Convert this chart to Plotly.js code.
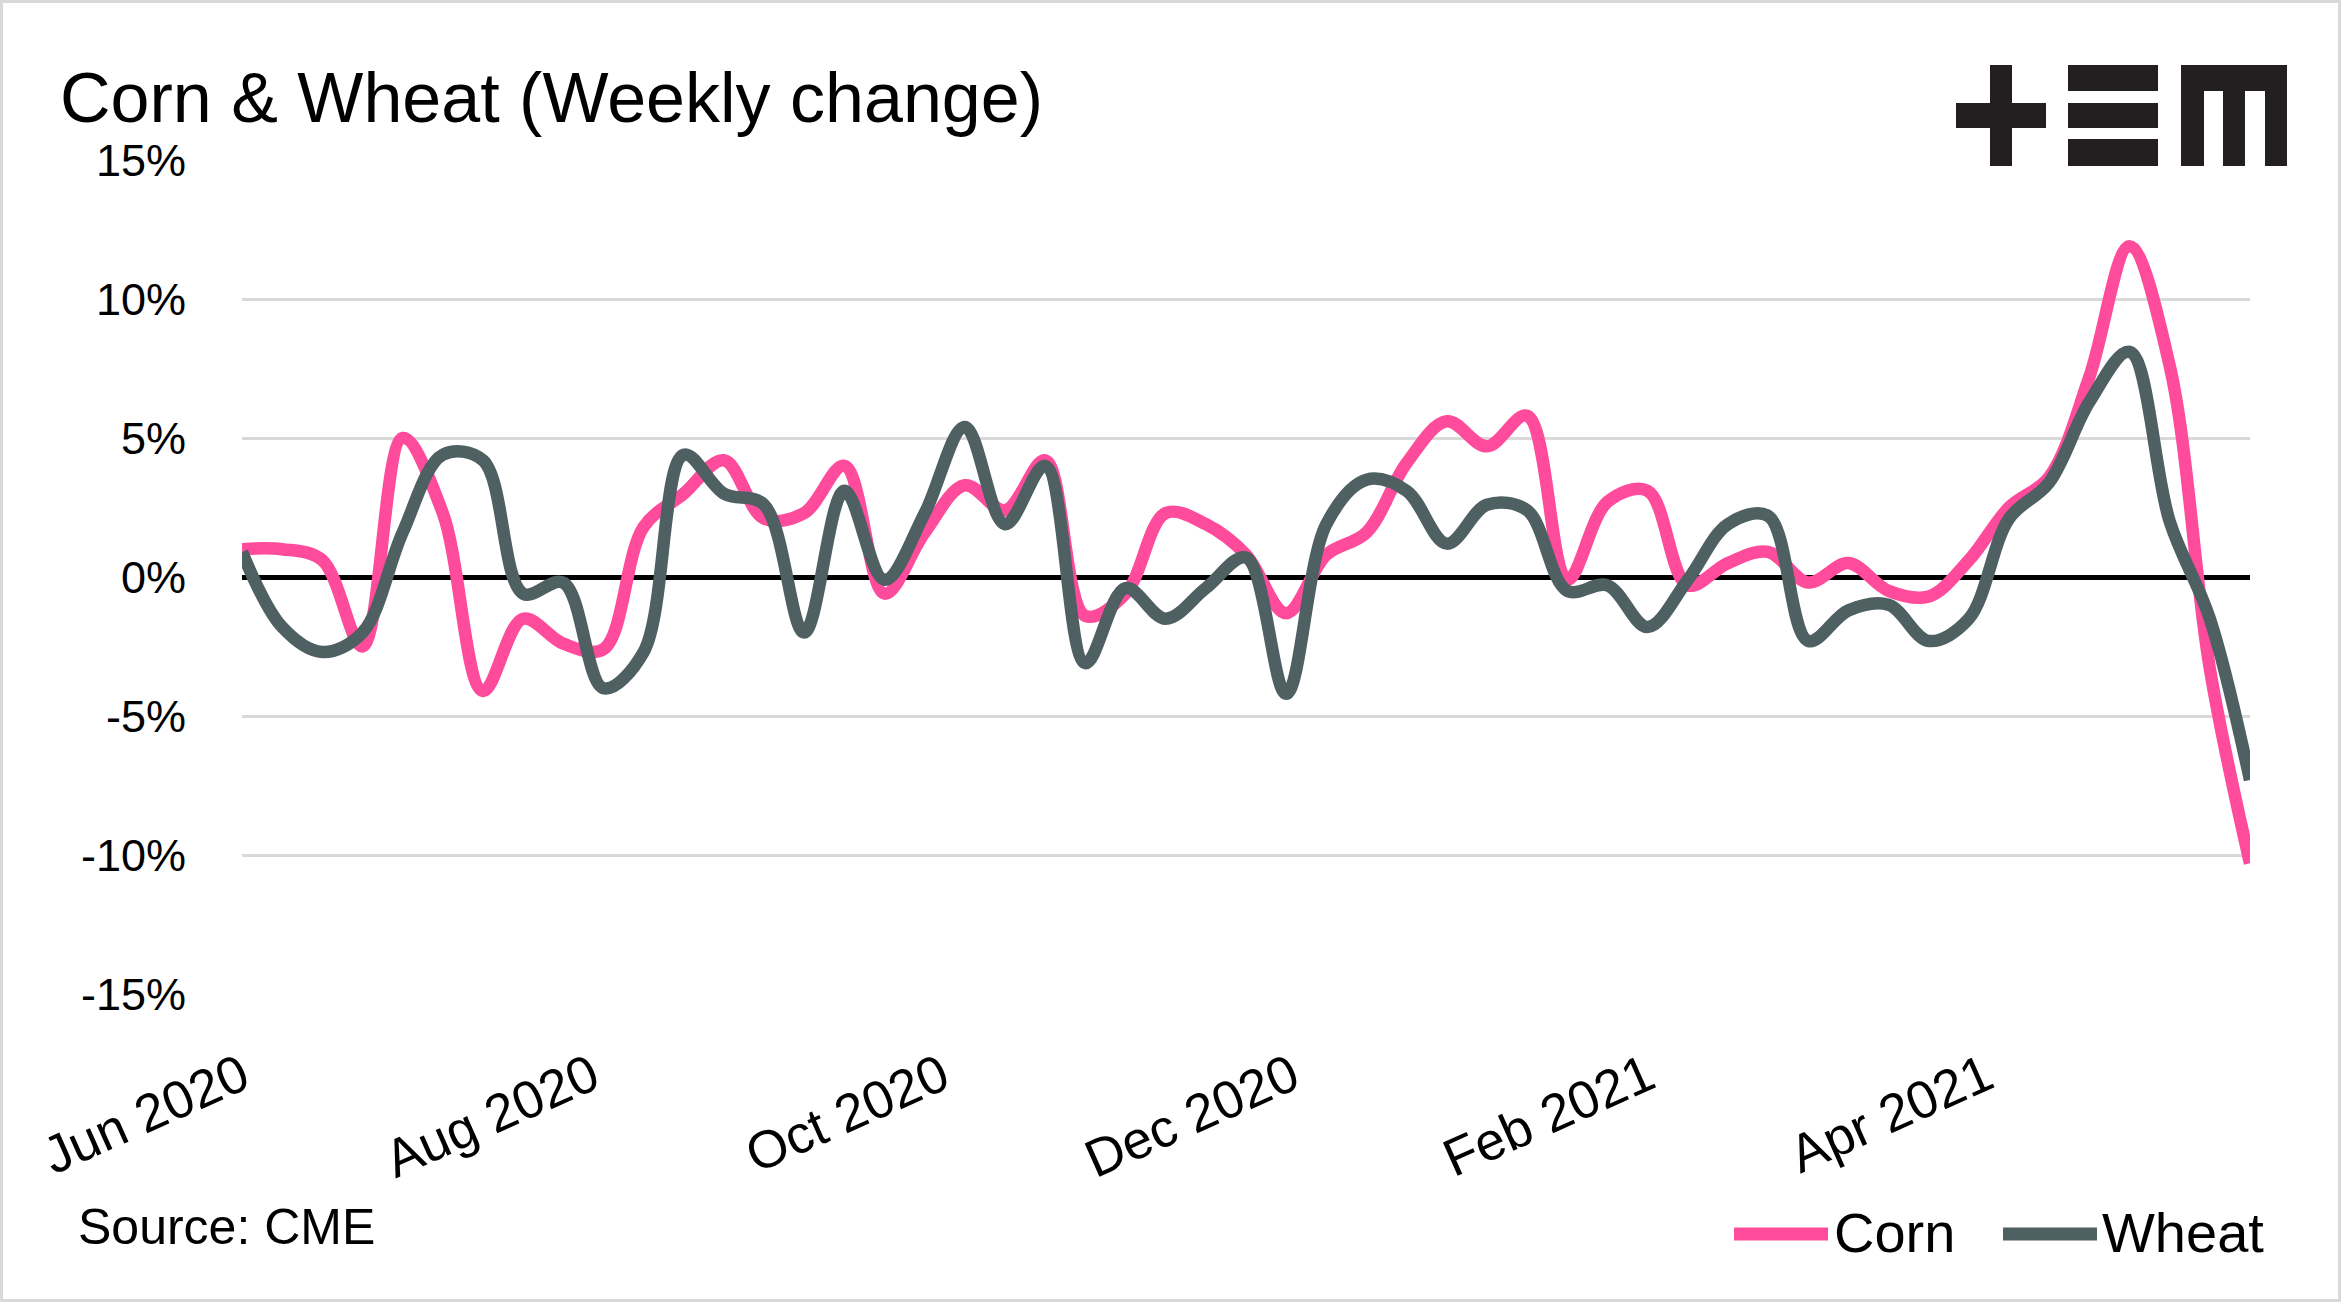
<!DOCTYPE html>
<html>
<head>
<meta charset="utf-8">
<script src="https://cdn.plot.ly/plotly-3.0.1.min.js"></script>
<style>
  html, body { margin: 0; padding: 0; background: #ffffff; }
  #wrap { position: relative; width: 2341px; height: 1302px; }
  #chart { position: absolute; left: 0; top: 0; width: 2341px; height: 1302px; }
  #frame { position: absolute; left: 0; top: 0; width: 2341px; height: 1302px; box-sizing: border-box; border: 3px solid #d9d9d9; pointer-events: none; }
</style>
</head>
<body>
<div id="wrap"><div id="chart"></div><div id="frame"></div></div>
<script>
// ---- Data ----
const weeks = [
  '2020-06-01','2020-06-08','2020-06-15','2020-06-22','2020-06-29',
  '2020-07-06','2020-07-13','2020-07-20','2020-07-27',
  '2020-08-03','2020-08-10','2020-08-17','2020-08-24','2020-08-31',
  '2020-09-07','2020-09-14','2020-09-21','2020-09-28',
  '2020-10-05','2020-10-12','2020-10-19','2020-10-26',
  '2020-11-02','2020-11-09','2020-11-16','2020-11-23','2020-11-30',
  '2020-12-07','2020-12-14','2020-12-21','2020-12-28',
  '2021-01-04','2021-01-11','2021-01-18','2021-01-25',
  '2021-02-01','2021-02-08','2021-02-15','2021-02-22',
  '2021-03-01','2021-03-08','2021-03-15','2021-03-22','2021-03-29',
  '2021-04-05','2021-04-12','2021-04-19','2021-04-26',
  '2021-05-03','2021-05-10','2021-05-17'
];
const cornName = 'Corn';
const wheatName = 'Wheat';
const corn = [
  1.0, 1.0, 0.6, -2.5, 5.0, 2.3, -4.1, -1.5, -2.4, -2.6,
  1.8, 3.0, 4.2, 2.1, 2.3, 4.0, -0.6, 1.6, 3.3, 2.4,
  4.2, -1.4, -0.6, 2.3, 1.9, 0.8, -1.3, 0.8, 1.6, 4.1,
  5.6, 4.7, 5.8, -0.1, 2.7, 3.1, -0.3, 0.5, 0.9, -0.2,
  0.5, -0.5, -0.7, 0.6, 2.5, 3.6, 7.2, 11.9, 7.6, -3.3,
  -10.3
];
const wheat = [
  0.9, -1.8, -2.7, -2.0, 1.6, 4.4, 4.2, -0.6, -0.2, -4.0,
  -2.7, 4.4, 3.0, 2.6, -2.0, 3.1, -0.1, 2.3, 5.4, 1.9,
  4.0, -3.1, -0.4, -1.5, -0.4, 0.7, -4.2, 1.9, 3.5, 3.1,
  1.2, 2.6, 2.4, -0.5, -0.3, -1.8, -0.1, 1.9, 2.2, -2.3,
  -1.2, -1.0, -2.3, -1.5, 2.1, 3.4, 6.3, 8.1, 2.0, -1.5,
  -7.3
];
const xTickVals = ['2020-06-01','2020-08-01','2020-10-01','2020-12-01','2021-02-01','2021-04-01'];
const xTickText = ['Jun 2020','Aug 2020','Oct 2020','Dec 2020','Feb 2021','Apr 2021'];
const yTickVals = [-15, -10, -5, 0, 5, 10, 15];
const yTickText = ['-15%','-10%','-5%','0%','5%','10%','15%'];
const titleText = 'Corn &amp; Wheat (Weekly change)';
const sourceText = 'Source: CME';

// ---- Styling ----
const CORN_COLOR = '#ff4b9b';
const WHEAT_COLOR = '#4e6062';
const FONT = 'Liberation Sans, Arial, sans-serif';
const W = 2341, H = 1302;
const M = {l: 242, r: 91, t: 160, b: 308};
const PW = W - M.l - M.r, PH = H - M.t - M.b;
const px = x => (x - M.l) / PW;
const py = y => (H - M.b - y) / PH;

const traces = [
  {x: weeks, y: corn, name: cornName, type: 'scatter', mode: 'lines',
   line: {color: CORN_COLOR, width: 12.5, shape: 'spline', smoothing: 1}},
  {x: weeks, y: wheat, name: wheatName, type: 'scatter', mode: 'lines',
   line: {color: WHEAT_COLOR, width: 12.5, shape: 'spline', smoothing: 1}}
];

const LOGO = '#231f20';
function rect(x0, y0, x1, y1, color, layer) {
  return {type: 'rect', xref: 'paper', yref: 'paper', x0: px(x0), x1: px(x1), y0: py(y1), y1: py(y0),
          fillcolor: color, line: {width: 0}, layer: layer || 'above'};
}
const shapes = [
  rect(1948, 154, 2300, 167, '#ffffff'),
  rect(1990, 65, 2012, 166, LOGO),
  rect(1956, 103, 2046, 128, LOGO),
  rect(2068, 65, 2158, 91, LOGO),
  rect(2068, 103, 2158, 128, LOGO),
  rect(2068, 139, 2158, 166, LOGO),
  rect(2181, 65, 2287, 91, LOGO),
  rect(2181, 65, 2204, 166, LOGO),
  rect(2223, 65, 2245, 166, LOGO),
  rect(2265, 65, 2287, 166, LOGO),
  {type: 'line', xref: 'paper', yref: 'paper', x0: px(1734), x1: px(1828), y0: py(1234), y1: py(1234),
   line: {color: CORN_COLOR, width: 13}},
  {type: 'line', xref: 'paper', yref: 'paper', x0: px(2003), x1: px(2097), y0: py(1234), y1: py(1234),
   line: {color: WHEAT_COLOR, width: 13}}
];

const annotations = [
  {text: sourceText, xref: 'paper', yref: 'paper', x: px(76), y: py(1227), xanchor: 'left', yanchor: 'middle',
   showarrow: false, font: {family: FONT, size: 50, color: '#000000'}},
  {text: cornName, xref: 'paper', yref: 'paper', x: px(1832), y: py(1232), xanchor: 'left', yanchor: 'middle',
   showarrow: false, font: {family: FONT, size: 56, color: '#000000'}},
  {text: wheatName, xref: 'paper', yref: 'paper', x: px(2100), y: py(1232), xanchor: 'left', yanchor: 'middle',
   showarrow: false, font: {family: FONT, size: 56, color: '#000000'}}
];

const layout = {
  width: W, height: H,
  margin: M,
  paper_bgcolor: '#ffffff', plot_bgcolor: '#ffffff',
  showlegend: false,
  font: {family: FONT, color: '#000000'},
  title: {text: titleText, x: 60 / W, xanchor: 'left', xref: 'container',
          y: 1 - 97 / H, yanchor: 'middle', yref: 'container',
          font: {family: FONT, size: 70, color: '#000000'}},
  xaxis: {
    type: 'date', range: [weeks[0], weeks[weeks.length - 1]],
    tickmode: 'array', tickvals: xTickVals, ticktext: xTickText,
    tickangle: -24, tickfont: {family: FONT, size: 53, color: '#000000'},
    ticks: 'outside', ticklen: 30, tickcolor: 'rgba(0,0,0,0)',
    showgrid: false, zeroline: false, showline: false
  },
  yaxis: {
    range: [-15, 15], tickmode: 'array', tickvals: yTickVals, ticktext: yTickText,
    tickfont: {family: FONT, size: 45, color: '#000000'},
    ticks: 'outside', ticklen: 46, tickcolor: 'rgba(0,0,0,0)',
    showgrid: true, gridcolor: '#d9d9d9', gridwidth: 3,
    zeroline: true, zerolinecolor: '#000000', zerolinewidth: 5,
    showline: false
  },
  shapes: shapes,
  annotations: annotations
};

Plotly.newPlot('chart', traces, layout, {staticPlot: true, displayModeBar: false});
</script>
</body>
</html>
